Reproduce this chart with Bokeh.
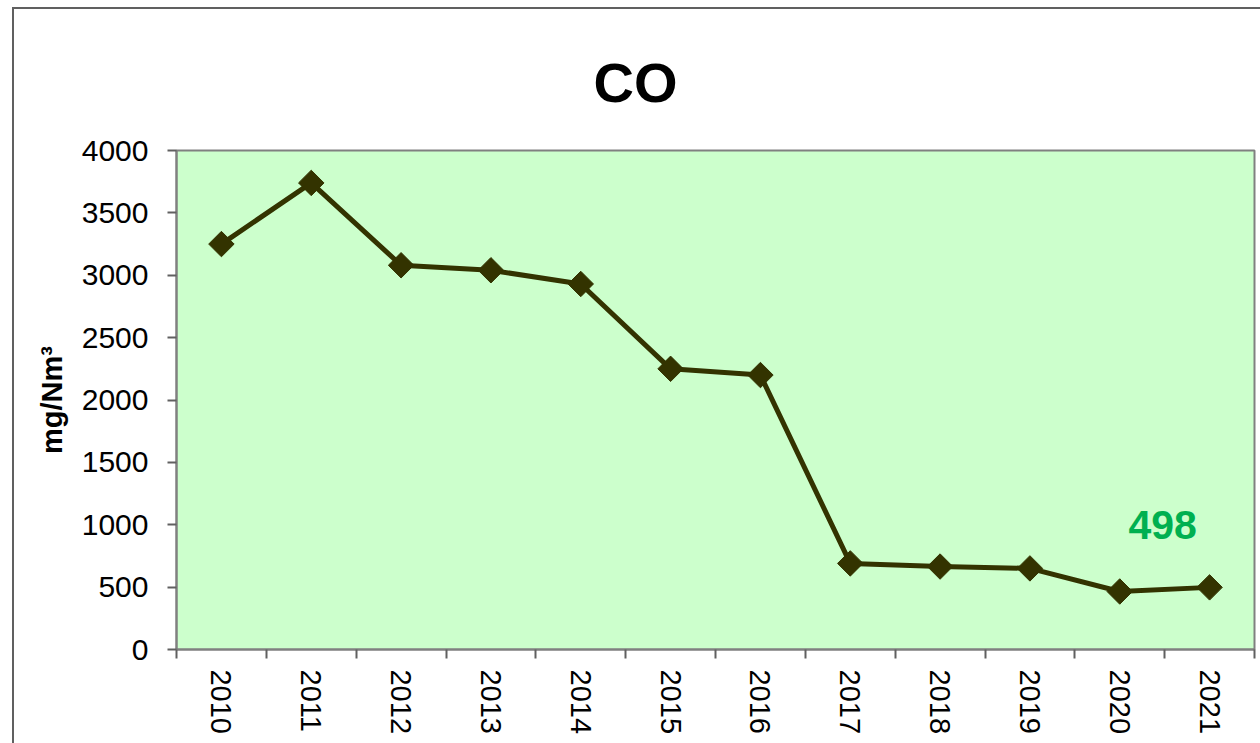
from bokeh.plotting import figure
from bokeh.models import Range1d, FixedTicker, Title
from bokeh.core.properties import value
from bokeh.embed import file_html
from bokeh.resources import INLINE

years = ["2010", "2011", "2012", "2013", "2014", "2015", "2016", "2017", "2018", "2019", "2020", "2021"]
co_values = [3250, 3740, 3080, 3040, 2930, 2250, 2200, 690, 665, 650, 465, 498]
y_ticks = [0, 500, 1000, 1500, 2000, 2500, 3000, 3500, 4000]
last_label = "498"
title_text = "CO"

FONT = "Liberation Sans"
W, H = 1248, 736

xpos = [i + 0.5 for i in range(len(years))]

p = figure(width=W, height=H, output_backend="svg", toolbar_location=None,
           x_range=Range1d(0, len(years)), y_range=Range1d(0, 4000),
           min_border_left=162, min_border_top=141, min_border_right=8, min_border_bottom=96)
p.title = None
p.margin = (7, 0, 0, 12)
p.background_fill_color = "#CCFFCC"
p.border_fill_color = "white"
p.outline_line_color = "#808080"
p.outline_line_width = 2
p.xgrid.visible = False
p.ygrid.visible = False
p.styles = {"border-top": "2px solid #606060", "border-left": "2px solid #606060",
            "box-sizing": "border-box"}

# x axis
xa = p.xaxis[0]
xa.ticker = FixedTicker(ticks=xpos, minor_ticks=list(range(len(years) + 1)))
xa.major_label_overrides = {x: y for x, y in zip(xpos, years)}
xa.major_label_orientation = "vertical"
xa.major_tick_out = 0
xa.major_tick_in = 0
xa.minor_tick_out = 9
xa.minor_tick_in = 0
xa.minor_tick_line_color = "#606060"
xa.minor_tick_line_width = 2
xa.axis_line_color = "#808080"
xa.axis_line_width = 2
xa.major_label_standoff = 11
xa.major_label_text_font = FONT
xa.major_label_text_font_size = "29px"
xa.major_label_text_color = "black"

# y axis
ya = p.yaxis[0]
ya.ticker = FixedTicker(ticks=y_ticks, minor_ticks=[])
ya.major_tick_out = 9
ya.major_tick_in = 0
ya.major_tick_line_color = "#606060"
ya.major_tick_line_width = 2
ya.minor_tick_line_color = None
ya.axis_line_color = "#808080"
ya.axis_line_width = 2
ya.major_label_standoff = 19
ya.major_label_text_font = FONT
ya.major_label_text_font_size = "30px"
ya.major_label_text_color = "black"
ya.axis_label = "mg/Nm³"
ya.axis_label_text_font = FONT
ya.axis_label_text_font_size = "29px"
ya.axis_label_text_font_style = "bold"
ya.axis_label_text_color = "black"
ya.axis_label_standoff = 11

p.line(xpos, co_values, line_color="#333300", line_width=5)
p.scatter(xpos, co_values, marker="square", size=18, angle=0.785398,
          fill_color="#333300", line_color="#333300")

p.text(x=[xpos[-1]], y=[co_values[-1]], text=[last_label],
       text_font=value(FONT), text_font_size="41px", text_font_style="bold",
       text_color="#00B050", text_align="center", text_baseline="alphabetic",
       x_offset=-47, y_offset=-62)

title = Title(text=title_text, align="left", offset=417, standoff=73,
              text_font=FONT, text_font_size="56px", text_font_style="bold",
              text_color="black")
p.add_layout(title, "above")

open("out.html", "w").write(file_html(p, INLINE))
